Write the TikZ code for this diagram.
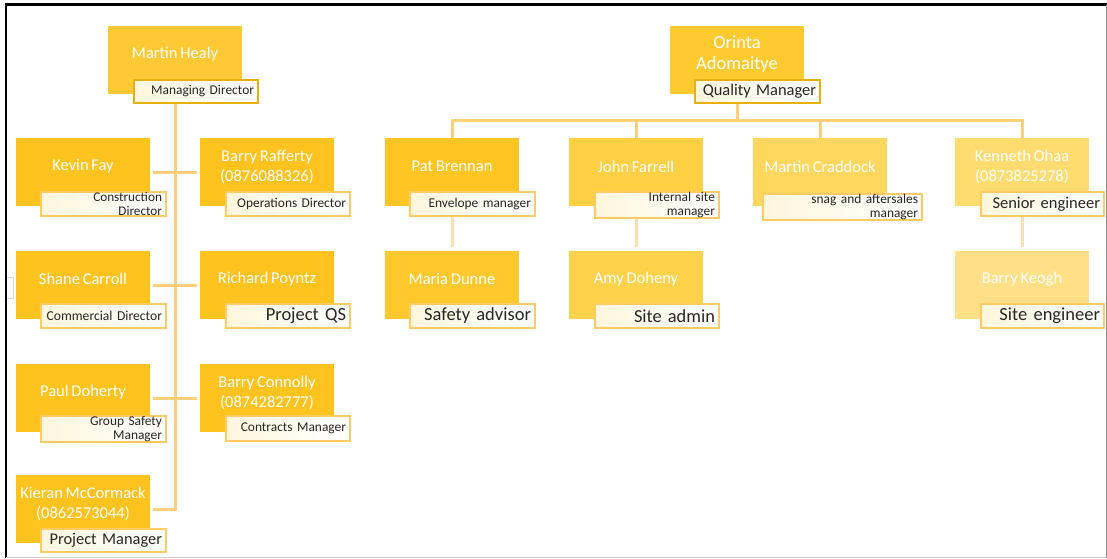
\documentclass[tikz,border=0pt]{standalone}
\usepackage{fontspec}
\setmainfont{Carlito}[WordSpace=0.75]
\usetikzlibrary{backgrounds}
\definecolor{cmh}{HTML}{FFC936}
\definecolor{cleft}{HTML}{FFC31F}
\definecolor{com}{HTML}{FFCA30}
\definecolor{cpb}{HTML}{FFC522}
\definecolor{cmd}{HTML}{FFC92E}
\definecolor{cjf}{HTML}{FFD043}
\definecolor{cad}{HTML}{FFD24C}
\definecolor{cmc}{HTML}{FFD75F}
\definecolor{cko}{HTML}{FFDC70}
\definecolor{cbk}{HTML}{FFE087}
\definecolor{lbldark}{HTML}{E6B010}
\definecolor{lbllight}{HTML}{FFCB62}
\definecolor{cream}{HTML}{FFF6DC}
\definecolor{connc}{HTML}{FFCF7A}
\definecolor{connl}{HTML}{FFDFB0}
\definecolor{txt}{HTML}{262626}
\begin{document}
\begin{tikzpicture}[x=1pt,y=-1pt,
  box/.style={rectangle, draw=none, minimum width=134pt, minimum height=68pt, inner sep=0pt, outer sep=0pt, anchor=north west},
  nm/.style={text=white, font=\fontsize{16.5}{20}\selectfont, align=center, inner sep=0pt},
  lbl/.style={rectangle, draw=lbllight, line width=2pt, left color=cream, right color=white, anchor=north west, align=right, inner xsep=4pt, inner ysep=0pt, outer sep=0pt, text=txt},
  lbld/.style={lbl, draw=lbldark},
  conn/.style={draw=connc, line width=3pt},
  conn2/.style={draw=connl, line width=3pt}]
\useasboundingbox (0,0) rectangle (1107,558);

% ---------- boxes ----------
\node[box, fill=cmh]   (mh) at (108,26) {};
\node[box, fill=cleft] (kf) at (16,138) {};
\node[box, fill=cleft] (br) at (200,138) {};
\node[box, fill=cleft] (sc) at (16,251) {};
\node[box, fill=cleft] (rp) at (200,251) {};
\node[box, fill=cleft] (pd) at (16,364) {};
\node[box, fill=cleft] (bc) at (200,364) {};
\node[box, fill=cleft] (km) at (16,475) {};
\node[box, fill=com]   (om) at (670,26) {};
\node[box, fill=cpb]   (pb) at (385,138) {};
\node[box, fill=cjf]   (jf) at (569,138) {};
\node[box, fill=cmc]   (mc) at (753,138) {};
\node[box, fill=cko]   (ko) at (955,138) {};
\node[box, fill=cmd]   (md) at (385,251) {};
\node[box, fill=cad]   (ad) at (569,251) {};
\node[box, fill=cbk]   (bk) at (955,251) {};

% ---------- names ----------
\node[nm] (mhn) at ([yshift=6pt]mh.center) {Martin Healy};
\node[nm] (kfn) at ([yshift=5.5pt]kf.center) {Kevin Fay};
\node[nm] (brn) at ([yshift=5.5pt]br.center) {Barry Rafferty\\(0876088326)};
\node[nm] (scn) at ([yshift=6pt]sc.center) {Shane Carroll};
\node[nm] (rpn) at ([yshift=6pt]rp.center) {Richard Poyntz};
\node[nm] (pdn) at ([yshift=6pt]pd.center) {Paul Doherty};
\node[nm] (bcn) at ([yshift=5.5pt]bc.center) {Barry Connolly\\(0874282777)};
\node[nm] (kmn) at ([yshift=5.5pt]km.center) {Kieran McCormack\\(0862573044)};
\node[nm, font=\fontsize{18.5}{21}\selectfont] (omn) at ([yshift=5.5pt]om.center) {Orinta\\Adomaitye};
\node[nm] (pbn) at ([yshift=5.5pt]pb.center) {Pat Brennan};
\node[nm] (jfn) at ([yshift=5.5pt]jf.center) {John Farrell};
\node[nm] (mcn) at ([yshift=5.5pt]mc.center) {Martin Craddock};
\node[nm] (kon) at ([yshift=5.5pt]ko.center) {Kenneth Ohaa\\(0873825278)};
\node[nm] (mdn) at ([yshift=6pt]md.center) {Maria Dunne};
\node[nm] (adn) at ([yshift=6pt]ad.center) {Amy Doheny};
\node[nm] (bkn) at ([yshift=6pt]bk.center) {Barry Keogh};

% ---------- title labels ----------
\node[lbld, text width=116pt, minimum height=23pt, font=\fontsize{13.4}{15}\selectfont] (mhl) at (134,80) {Managing Director};
\node[lbl, text width=117pt, minimum height=24pt, font=\fontsize{13.2}{14}\selectfont] (kfl) at (41,192) {Construction\\Director};
\node[lbl, text width=116pt, minimum height=24pt, font=\fontsize{13.4}{15}\selectfont] (brl) at (226,192) {Operations Director};
\node[lbl, text width=117pt, minimum height=24pt, font=\fontsize{13.6}{15}\selectfont] (scl) at (41,304) {Commercial Director};
\node[lbl, text width=116pt, minimum height=24pt, font=\fontsize{18.5}{20}\selectfont] (rpl) at (226,304) {Project QS};
\node[lbl, text width=117pt, minimum height=25pt, font=\fontsize{13.4}{14}\selectfont] (pdl) at (41,416) {Group Safety\\Manager};
\node[lbl, text width=116pt, minimum height=25pt, font=\fontsize{13.4}{15}\selectfont] (bcl) at (226,416) {Contracts Manager};
\node[lbl, text width=117pt, minimum height=23pt, font=\fontsize{16.4}{18}\selectfont] (kml) at (41,529) {Project Manager};
\node[lbld, text width=117pt, minimum height=23pt, font=\fontsize{16.4}{18}\selectfont] (oml) at (695,80) {Quality Manager};
\node[lbl, text width=117pt, minimum height=24pt, font=\fontsize{13.4}{15}\selectfont] (pbl) at (410,192) {Envelope manager};
\node[lbl, text width=116pt, minimum height=24pt, font=\fontsize{13.4}{14}\selectfont] (jfl) at (595,192) {Internal site\\manager};
\node[lbl, text width=151pt, minimum height=25pt, font=\fontsize{13.4}{14}\selectfont] (mcl) at (763,194) {snag and aftersales\\manager};
\node[lbl, text width=115pt, minimum height=24pt, font=\fontsize{16.5}{18}\selectfont] (kol) at (981,192) {Senior engineer};
\node[lbl, text width=117pt, minimum height=24pt, font=\fontsize{18.5}{20}\selectfont] (mdl) at (410,304) {Safety advisor};
\node[lbl, text width=116pt, minimum height=24pt, font=\fontsize{18.4}{20}\selectfont] (adl) at (595,304) {Site admin};
\node[lbl, text width=115pt, minimum height=24pt, font=\fontsize{18.5}{20}\selectfont] (bkl) at (981,304) {Site engineer};

% ---------- connectors ----------
\coordinate (bus) at (737,120);
\begin{scope}[on background layer]
  \draw[conn] (mh.south) |- ([xshift=3pt]km.east);
  \draw[conn, shorten <=3pt, shorten >=3pt] (kf) -- (br);
  \draw[conn, shorten <=3pt, shorten >=3pt] (sc) -- (rp);
  \draw[conn, shorten <=3pt, shorten >=3pt] (pd) -- (bc);
  \draw[conn] (om.south) -- (bus);
  \draw[conn] (pb.north) |- (bus) -| (ko.north);
  \draw[conn] (jf.north) -- (jf.north |- bus);
  \draw[conn] (mc.north) -- (mc.north |- bus);
  \draw[conn2, shorten >=4pt] (pb.south) -- (md.north);
  \draw[conn2, shorten >=4pt] (jf.south) -- (ad.north);
  \draw[conn2, shorten >=4pt] (ko.south) -- (bk.north);
\end{scope}

% ---------- frame ----------
\draw[black, line width=2.2pt] (6,558) -- (6,4.5) -- (1106.5,4.5);
\draw[black!45, line width=1.2pt] (1106.2,5) -- (1106.2,558);
\draw[black!18, line width=1pt] (6,557.5) -- (1106,557.5);
\draw[black!15, line width=0.8pt] (7,277) -- (13,277) -- (13,298) -- (7,298);
\end{tikzpicture}
\end{document}
